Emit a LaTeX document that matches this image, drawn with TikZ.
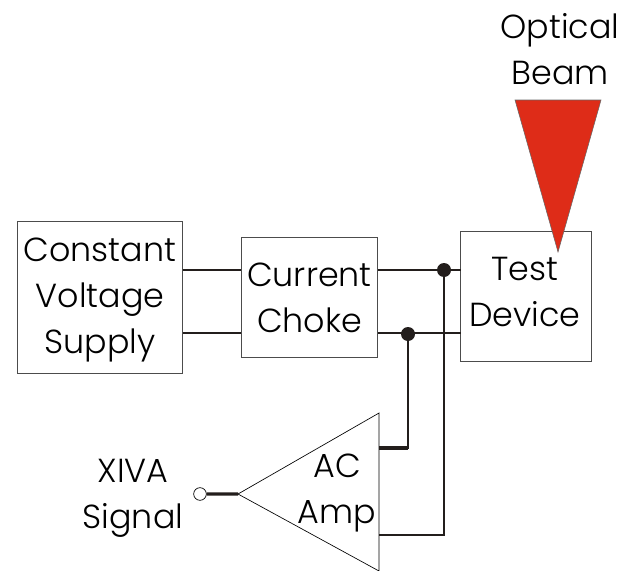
\documentclass[tikz,border=0pt]{standalone}
\usepackage{fontspec}
\setmainfont{Poppins Light}
\usetikzlibrary{shapes, arrows.meta, positioning}
\definecolor{beamred}{RGB}{222,44,24}
\definecolor{wirecol}{RGB}{35,30,28}
\tikzset{
    blockbox/.style={draw=black!70, rectangle, line width=0.6pt, inner sep=0pt},
    wire/.style={draw=wirecol, line width=1.9pt},
    heavywire/.style={draw=wirecol, line width=2.5pt},
    lbl/.style={inner sep=0pt, align=center, font=\fontsize{25}{34.5}\selectfont},
    junction/.style={circle, fill=wirecol, inner sep=0pt, minimum size=10.5pt}
}
\begin{document}
\begin{tikzpicture}[x=1pt, y=-1pt, xscale=0.75, yscale=0.75]
            \useasboundingbox (0,0) rectangle (632,571);

            \node[blockbox, minimum width=124pt, minimum height=114pt] (supply) at (100,297.5) {};
            \node[blockbox, minimum width=102pt, minimum height=90pt] (choke) at (309.5,297.5) {};
            \node[blockbox, minimum width=98pt, minimum height=98pt] (device) at (526,296.5) {};
            \node[lbl] (supplytext) at (100,300) {Constant\\Voltage\\Supply};
            \node[lbl] (choketext) at (309.5,298) {Current\\Choke};
            \node[lbl] (devicetext) at (525,292) {Test\\Device};

            % amplifier
            \coordinate (ampa) at (379,413);
            \coordinate (ampb) at (379,571);
            \coordinate (ampc) at (238,494);
            \draw[line width=0.5pt] (ampa) -- (ampb) -- (ampc) -- cycle;
            \node[lbl] (amp) at (337,493) {AC\\Amp};

            % beam
            \coordinate (beama) at (515,100);
            \coordinate (beamb) at (601,100);
            \coordinate (beamc) at (558,252);
            \draw[fill=beamred, draw=black!60, line width=0.4pt] (beama) -- (beamb) -- (beamc) -- cycle;
            \node[lbl] (beam) at (560,49) {Optical\\Beam};

            \node[lbl] (signal) at (133,498) {XIVA\\Signal};
            \node[draw, circle, fill=white, inner sep=0pt, minimum size=9.5pt, line width=0.5pt] (port) at (200,494) {};

            \coordinate (suptop) at (183,270);
            \coordinate (supbot) at (183,333);
            \coordinate (chktopl) at (241,270);
            \coordinate (chkbotl) at (241,333);
            \coordinate (chktopr) at (378,270);
            \coordinate (chkbotr) at (378,333);
            \coordinate (devtop) at (461,270);
            \coordinate (devbot) at (461,333);
            \coordinate (ampup) at (379,448);
            \coordinate (ampdn) at (379,535);

            \node[junction] (jtop) at (444,270) {};
            \node[junction] (jbot) at (408,334) {};

            \draw[wire] (suptop) -- (chktopl);
            \draw[wire] (supbot) -- (chkbotl);
            \draw[wire] (chktopr) -- (devtop);
            \draw[wire] (chkbotr) -- (devbot);
            \draw[wire] (jbot) |- (ampup);
            \draw[heavywire] (ampup) -- (ampup -| jbot);
            \draw[wire] (jtop) |- (ampdn);
            \draw[heavywire] (port) -- (ampc);
        \end{tikzpicture}
\end{document}
